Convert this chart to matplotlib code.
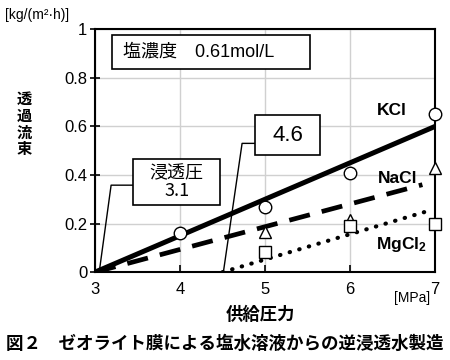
import matplotlib
matplotlib.use('Agg')
import matplotlib.pyplot as plt
from matplotlib.patches import Rectangle

plt.rcParams['font.family'] = ['Liberation Sans', 'Noto Sans CJK JP', 'DejaVu Sans']
plt.rcParams['mathtext.fontset'] = 'custom'
plt.rcParams['mathtext.rm'] = 'Liberation Sans'
plt.rcParams['mathtext.bf'] = 'Liberation Sans:bold'
JP = ['Noto Sans CJK JP', 'DejaVu Sans']

# measured points
pressure = [4, 5, 6, 7]
kcl_pts = [0.16, 0.27, 0.41, 0.65]
nacl_x = [5, 6, 7]
nacl_pts = [0.165, 0.215, 0.43]
mgcl2_x = [5, 6, 7]
mgcl2_pts = [0.085, 0.19, 0.20]

# fitted lines (start, end)
kcl_line_x = [3.0, 7.0]
kcl_line_y = [0.0, 0.60]
nacl_line_x = [3.0, 6.85]
nacl_line_y = [0.0, 0.36]
mgcl2_line_x = [4.5, 6.9]
mgcl2_line_y = [0.0, 0.25]

xticks = [3, 4, 5, 6, 7]
yticks = [0, 0.2, 0.4, 0.6, 0.8, 1]
ytick_labels = ['0', '0.2', '0.4', '0.6', '0.8', '1']

fig = plt.figure(figsize=(4.5, 3.6), dpi=100)
ax = fig.add_axes([0.211, 0.244, 0.756, 0.675])

ax.plot(kcl_line_x, kcl_line_y, color='black', lw=3.6, solid_capstyle='butt', zorder=3)
ax.plot(nacl_line_x, nacl_line_y, color='black', lw=3.4, dashes=(4.5, 2.6), zorder=3)
ax.plot(mgcl2_line_x, mgcl2_line_y, color='black', lw=3.0, dashes=(0.1, 2.3),
        dash_capstyle='round', zorder=3)

mk = dict(markerfacecolor='white', markeredgecolor='black', markeredgewidth=1.0,
          markersize=9, linestyle='none', zorder=4, clip_on=False)
ax.plot(pressure, kcl_pts, marker='o', **mk)
ax.plot(nacl_x, nacl_pts, marker='^', **mk)
ax.plot(mgcl2_x, mgcl2_pts, marker='s', **mk)

ax.set_xlim(3, 7)
ax.set_ylim(0, 1)
ax.set_xticks(xticks)
ax.set_yticks(yticks)
ax.set_yticklabels(ytick_labels)
ax.grid(True, color='#d0d0d0', lw=1.0)
ax.set_axisbelow(True)
for s in ax.spines.values():
    s.set_linewidth(1.5)
ax.tick_params(axis='y', direction='inout', length=7, width=1.2, labelsize=12, pad=2)
ax.tick_params(axis='x', direction='in', length=5, width=1.2, labelsize=12, pad=7)

# series labels
ax.text(6.49, 0.667, 'KCl', ha='center', va='center', fontsize=12.5, fontweight='bold')
ax.text(6.56, 0.387, 'NaCl', ha='center', va='center', fontsize=12.5, fontweight='bold')
ax.text(6.6, 0.112, r'$\mathbf{MgCl_2}$', ha='center', va='center', fontsize=12.5)

# salt concentration box
ax.add_patch(Rectangle((3.2, 0.835), 2.33, 0.14, facecolor='white', edgecolor='black', lw=1.2, zorder=5))
ax.text(3.33, 0.905, '塩濃度　0.61mol/L', ha='left', va='center', fontsize=13, zorder=6)

# osmotic pressure callouts
ax.plot([3.05, 3.19, 3.45], [0.0, 0.358, 0.358], color='black', lw=1.0, zorder=5)
ax.add_patch(Rectangle((3.45, 0.276), 1.02, 0.189, facecolor='white', edgecolor='black', lw=1.2, zorder=5))
ax.text(3.96, 0.37, '浸透圧\n3.1', ha='center', va='center', fontsize=13, linespacing=0.95,
        family=JP, zorder=6)

ax.plot([4.51, 4.73, 4.88], [0.0, 0.53, 0.53], color='black', lw=1.0, zorder=5)
ax.add_patch(Rectangle((4.88, 0.481), 0.77, 0.165, facecolor='white', edgecolor='black', lw=1.2, zorder=5))
ax.text(5.265, 0.563, '4.6', ha='center', va='center', fontsize=16, zorder=6)

# axis labels and units
fig.text(0.012, 0.958, '[kg/(m²·h)]', ha='left', va='center', fontsize=10)
fig.text(0.054, 0.655, '透\n過\n流\n束', ha='center', va='center', fontsize=11,
         fontweight='bold', linespacing=1.05, family=JP)
fig.text(0.915, 0.172, '[MPa]', ha='center', va='center', fontsize=10)
fig.text(0.578, 0.125, '供給圧力', ha='center', va='center', fontsize=12.5, fontweight='bold', family=JP)
fig.text(0.5, 0.045, '図２　ゼオライト膜による塩水溶液からの逆浸透水製造', ha='center', va='center',
         fontsize=12.6, fontweight='bold', family=JP)

fig.savefig('out.png', dpi=100)
